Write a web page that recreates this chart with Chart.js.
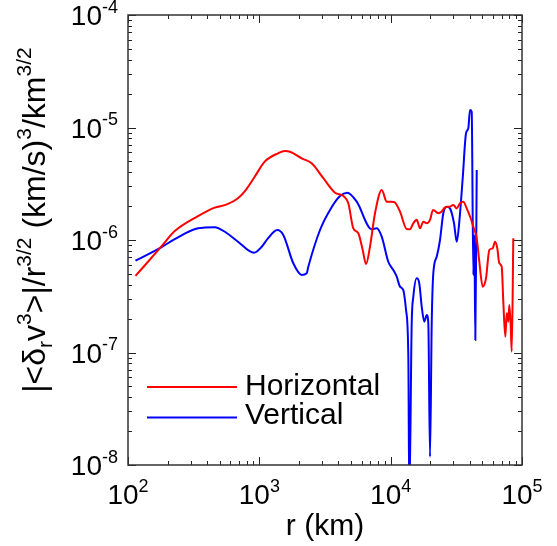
<!DOCTYPE html>
<html>
<head>
<meta charset="utf-8">
<script src="https://cdn.jsdelivr.net/npm/chart.js@4.4.0/dist/chart.umd.min.js"></script>
<style>
  html, body { margin: 0; padding: 0; background: #fff; }
</style>
</head>
<body>
<canvas id="structChart" width="557" height="546"></canvas>
<script>
// Separation r (km) and |<dr v^3>|/r^(3/2)
const rH = [114, 179, 227, 341, 457, 560, 688, 796, 922, 1099,
            1388, 1568, 1712, 2102, 2505, 3070, 3769, 4360, 4760, 5195,
            5670, 6124, 6490, 6960, 7600, 8550, 9330, 10600, 11780, 13250,
            14040, 14880, 15790, 16730, 17720, 18810, 19930, 21010, 23050, 24470,
            25930, 28300, 29990, 31840, 33730, 35730, 37930, 40680, 42590, 45210,
            47310, 50220, 53200, 56370, 59840, 62310, 64860, 67180, 70060, 72060,
            74630, 76490, 78650, 80060, 82040, 83500, 85880];
const vH = [4.79e-7, 8.72e-7, 1.20e-6, 1.63e-6, 1.94e-6, 2.06e-6, 2.35e-6, 2.82e-6, 3.65e-6, 4.97e-6,
            5.90e-6, 6.18e-6, 6.09e-6, 5.32e-6, 4.81e-6, 3.54e-6, 2.63e-6, 2.46e-6, 2.12e-6, 1.27e-6,
            1.15e-6, 8.15e-7, 6.12e-7, 8.72e-7, 1.73e-6, 2.78e-6, 2.19e-6, 2.18e-6, 1.79e-6, 1.25e-6,
            1.245e-6, 1.41e-6, 1.51e-6, 1.27e-6, 1.455e-6, 1.41e-6, 1.51e-6, 1.85e-6, 1.73e-6, 1.79e-6,
            1.945e-6, 1.98e-6, 2.05e-6, 1.91e-6, 2.12e-6, 2.19e-6, 1.91e-6, 1.56e-6, 1.31e-6, 1.035e-6,
            6.41e-7, 3.85e-7, 4.57e-7, 8.15e-7, 8.44e-7, 9.66e-7, 8.44e-7, 6.21e-7, 5.79e-7, 2.83e-7,
            1.38e-7, 2.23e-7, 1.88e-7, 2.64e-7, 1.755e-7, 1.02e-7, 1.035e-6];

const rV = [114, 179, 227, 341, 457, 560, 688, 911, 1035, 1164,
            1370, 1522, 1814, 2102, 2295, 2360, 2897, 3452, 4115, 4675,
            5514, 7172, 7831, 8550, 9594, 10470, 11120, 11780, 12480, 13090,
            13630, 13870, 14460, 14880, 15790, 16520, 17240, 18040, 18810, 19350,
            19930, 20540, 21120, 22420, 23750, 25170, 26720, 28300, 30360, 31840,
            33320, 35360, 37480, 39010, 40190, 41410, 42590, 43350, 44120, 45210];
const vV = [6.55e-7, 8.61e-7, 1.02e-6, 1.27e-6, 1.30e-6, 1.16e-6, 9.66e-7, 7.71e-7, 8.61e-7, 1.035e-6,
            1.227e-6, 1.108e-6, 6.21e-7, 4.89e-7, 5.06e-7, 5.79e-7, 1.227e-6, 1.85e-6, 2.46e-6, 2.63e-6,
            2.19e-6, 1.245e-6, 1.27e-6, 1.07e-6, 6.41e-7, 5.41e-7, 4.72e-7, 3.85e-7, 3.59e-7, 2.39e-7,
            9.18e-8, 5e-9, 1.82e-7, 3.13e-7, 4.57e-7, 4.12e-7, 2.55e-7, 1.88e-7, 2.15e-7, 1.82e-7,
            1.185e-8, 1.82e-7, 5.06e-7, 7.10e-7, 1.0e-6, 1.73e-6, 1.98e-6, 1.91e-6, 1.41e-6, 9.66e-7,
            1.455e-6, 3.54e-6, 8.88e-6, 9.84e-6, 1.43e-5, 1.38e-5, 4.89e-7, 1.108e-6, 1.29e-7, 4.19e-6];

const seriesNames = ['Horizontal', 'Vertical'];
const xDecades = [2, 3, 4, 5];          // 10^2 .. 10^5
const yDecades = [-8, -7, -6, -5, -4];  // 10^-8 .. 10^-4

const FONT = '"Liberation Sans", Arial, Helvetica, sans-serif';

function toPoints(xs, ys) {
    return xs.map((x, i) => ({ x: x, y: ys[i] }));
}

// draw "10" with a superscript exponent
function drawPower(ctx, left, baseline, exp, size, supSize, rise) {
    ctx.font = size + 'px ' + FONT;
    ctx.fillText('10', left, baseline);
    const w = ctx.measureText('10').width;
    ctx.font = supSize + 'px ' + FONT;
    ctx.fillText(String(exp), left + w, baseline - rise);
}

function powerWidth(ctx, exp, size, supSize) {
    ctx.font = size + 'px ' + FONT;
    const w = ctx.measureText('10').width;
    ctx.font = supSize + 'px ' + FONT;
    return w + ctx.measureText(String(exp)).width;
}

const axesPlugin = {
    id: 'idlAxes',
    afterDraw(chart) {
        const ctx = chart.ctx;
        const ca = chart.chartArea;
        const xs = chart.scales.x;
        const ys = chart.scales.y;

        ctx.save();
        // ticks (inward, all four sides)
        ctx.strokeStyle = '#222';
        ctx.lineWidth = 1;
        ctx.beginPath();
        xDecades.forEach((d, i) => {
            for (let k = 1; k <= 9; k++) {
                if (k > 1 && i === xDecades.length - 1) break;
                const px = Math.round(xs.getPixelForValue(k * Math.pow(10, d))) + 0.5;
                const len = k === 1 ? 8 : 4;
                ctx.moveTo(px, ca.bottom); ctx.lineTo(px, ca.bottom - len);
                ctx.moveTo(px, ca.top); ctx.lineTo(px, ca.top + len);
            }
        });
        yDecades.forEach((d, i) => {
            for (let k = 1; k <= 9; k++) {
                if (k > 1 && i === yDecades.length - 1) break;
                const py = Math.round(ys.getPixelForValue(k * Math.pow(10, d))) + 0.5;
                const len = k === 1 ? 8 : 4;
                ctx.moveTo(ca.left, py); ctx.lineTo(ca.left + len, py);
                ctx.moveTo(ca.right, py); ctx.lineTo(ca.right - len, py);
            }
        });
        ctx.stroke();

        // frame
        ctx.strokeStyle = '#333';
        ctx.lineWidth = 1.5;
        ctx.strokeRect(ca.left, ca.top, ca.right - ca.left, ca.bottom - ca.top);

        // tick labels
        ctx.fillStyle = '#000';
        ctx.textBaseline = 'alphabetic';
        ctx.textAlign = 'left';
        xDecades.forEach(d => {
            const px = xs.getPixelForValue(Math.pow(10, d));
            const w = powerWidth(ctx, d, 28, 18);
            drawPower(ctx, px - w / 2, ca.bottom + 39, d, 28, 18, 12.5);
        });
        yDecades.forEach(d => {
            const py = ys.getPixelForValue(Math.pow(10, d));
            const w = powerWidth(ctx, d, 28, 18);
            drawPower(ctx, ca.left - 10 - w, py + 10, d, 28, 18, 12.5);
        });

        // x title
        ctx.font = '30px ' + FONT;
        ctx.textAlign = 'center';
        ctx.fillText('r (km)', (ca.left + ca.right) / 2, 535);

        // y title, rotated, with sub/superscripts
        const parts = [
            ['|<\u03B4', 0], ['r', 1], ['v', 0], ['3', -1], ['>|/r', 0], ['3/2', -1],
            [' (km/s)', 0], ['3', -1], ['/km', 0], ['3/2', -1]
        ];
        const mainSize = 32, smallSize = 21;
        ctx.textAlign = 'left';
        let total = 0;
        parts.forEach(p => {
            ctx.font = (p[1] === 0 ? mainSize : smallSize) + 'px ' + FONT;
            total += ctx.measureText(p[0]).width;
        });
        ctx.translate(45, 220 + total / 2);
        ctx.rotate(-Math.PI / 2);
        let cx = 0;
        parts.forEach(p => {
            ctx.font = (p[1] === 0 ? mainSize : smallSize) + 'px ' + FONT;
            const dy = p[1] === 1 ? 7 : (p[1] === -1 ? -14 : 0);
            ctx.fillText(p[0], cx, dy);
            cx += ctx.measureText(p[0]).width;
        });
        ctx.restore();

        // legend inside the plot
        ctx.save();
        chart.data.datasets.forEach((ds, i) => {
            const yLine = 387 + i * 30.5;
            ctx.strokeStyle = ds.borderColor;
            ctx.lineWidth = 2;
            ctx.beginPath();
            ctx.moveTo(147, yLine);
            ctx.lineTo(237, yLine);
            ctx.stroke();
            ctx.fillStyle = '#000';
            ctx.font = '30px ' + FONT;
            ctx.textAlign = 'left';
            ctx.fillText(ds.label, 245, 395 + i * 28.5);
        });
        ctx.restore();
    }
};

const chart = new Chart(document.getElementById('structChart'), {
    type: 'line',
    data: {
        datasets: [{
            label: seriesNames[0],
            data: toPoints(rH, vH),
            borderColor: '#ff0000',
            borderWidth: 2,
            pointRadius: 0,
            cubicInterpolationMode: 'monotone',
            fill: false
        }, {
            label: seriesNames[1],
            data: toPoints(rV, vV),
            borderColor: '#0000ff',
            borderWidth: 2,
            pointRadius: 0,
            cubicInterpolationMode: 'monotone',
            fill: false
        }]
    },
    options: {
        responsive: false,
        animation: false,
        layout: { padding: { left: 128, right: 35, top: 15, bottom: 81 } },
        scales: {
            x: {
                type: 'logarithmic',
                min: 1e2,
                max: 1e5,
                display: false
            },
            y: {
                type: 'logarithmic',
                min: 1e-8,
                max: 1e-4,
                display: false
            }
        },
        plugins: {
            legend: { display: false },
            tooltip: { enabled: false }
        }
    },
    plugins: [axesPlugin]
});
</script>
</body>
</html>
